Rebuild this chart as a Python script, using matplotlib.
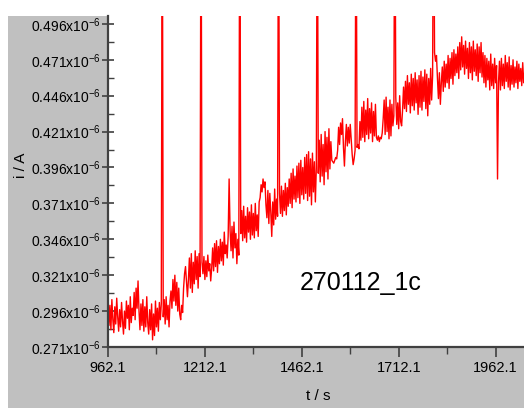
import numpy as np
import matplotlib
matplotlib.use("Agg")
import matplotlib.pyplot as plt
from matplotlib.patches import Rectangle
from matplotlib.ticker import FixedLocator

# Chronoamperometry trace: current (units of 1e-6 A) sampled every 2.5 s
t_start = 962.1
t_step = 2.5
current = [
    # 962 - 1100 s
    0.308, 0.286, 0.300, 0.283, 0.304, 0.290, 0.281, 0.299, 0.287, 0.305,
    0.292, 0.282, 0.297, 0.285, 0.302, 0.289, 0.280, 0.296, 0.284, 0.303,
    0.291, 0.300, 0.283, 0.306, 0.288, 0.298, 0.293, 0.309, 0.290, 0.312,
    0.298, 0.317, 0.296, 0.283, 0.301, 0.286, 0.304, 0.282, 0.299, 0.285,
    0.306, 0.288, 0.280, 0.297, 0.283, 0.301, 0.276, 0.294, 0.279, 0.303,
    0.285, 0.298, 0.282, 0.302, 0.290, 0.301,
    0.620,
    # 1104 - 1200 s
    0.292, 0.304, 0.287, 0.306, 0.290, 0.300, 0.285, 0.303,
    0.310, 0.298, 0.318, 0.303, 0.321, 0.300, 0.316, 0.296, 0.312, 0.294,
    0.290, 0.300, 0.295, 0.312, 0.322, 0.327, 0.316, 0.306, 0.318,
    0.333, 0.312, 0.336, 0.309, 0.330, 0.315, 0.338, 0.318, 0.334, 0.312, 0.336, 0.320,
    0.620,
    # 1204 - 1300 s
    0.330, 0.322, 0.334, 0.318, 0.331, 0.320, 0.335, 0.324, 0.329, 0.317,
    0.326, 0.340, 0.324, 0.343, 0.327, 0.345, 0.323, 0.341, 0.329, 0.346,
    0.331, 0.344, 0.328, 0.351, 0.336, 0.342, 0.333, 0.348, 0.388, 0.352,
    0.338, 0.355, 0.333, 0.358, 0.340, 0.350, 0.329, 0.346, 0.335,
    0.620,
    # 1304 - 1400 s
    0.350, 0.366, 0.345, 0.369, 0.347, 0.362, 0.344, 0.368, 0.351, 0.365,
    0.346, 0.370, 0.349, 0.364, 0.347, 0.371, 0.352, 0.363, 0.348, 0.372,
    0.375, 0.384, 0.379, 0.388, 0.382, 0.386, 0.370, 0.361, 0.380, 0.357,
    0.378, 0.365, 0.348, 0.372, 0.356, 0.381, 0.360, 0.374, 0.362,
    0.620,
    # 1404 - 1500 s
    0.378, 0.364, 0.383, 0.362, 0.380, 0.366, 0.385, 0.363, 0.382, 0.369,
    0.388, 0.371, 0.392, 0.368, 0.395, 0.374, 0.390, 0.372, 0.397, 0.375,
    0.399, 0.371, 0.401, 0.377, 0.396, 0.374, 0.403, 0.378, 0.405, 0.373,
    0.407, 0.376, 0.402, 0.370, 0.406, 0.379, 0.400, 0.372, 0.396,
    0.620,
    # 1504 - 1600 s
    0.392, 0.415, 0.386, 0.419, 0.390, 0.412, 0.384, 0.421, 0.393, 0.417,
    0.388, 0.423, 0.395, 0.414, 0.401, 0.400, 0.399, 0.401, 0.403, 0.402,
    0.408, 0.424, 0.412, 0.427, 0.419, 0.430, 0.410, 0.397, 0.414, 0.426,
    0.411, 0.424, 0.413, 0.426, 0.415, 0.405, 0.398, 0.402, 0.408,
    0.620,
    # 1604 - 1700 s
    0.410, 0.412, 0.409, 0.428, 0.415, 0.438, 0.417, 0.442, 0.414, 0.436,
    0.419, 0.444, 0.416, 0.437, 0.420, 0.441, 0.414, 0.435, 0.418, 0.440,
    0.417, 0.415, 0.418, 0.414, 0.417, 0.416, 0.420, 0.430, 0.443, 0.419,
    0.445, 0.421, 0.438, 0.416, 0.443, 0.418, 0.440, 0.425, 0.432,
    0.620,
    # 1704 - 1800 s
    0.445, 0.426, 0.441, 0.423, 0.446, 0.428, 0.425, 0.436, 0.452, 0.437,
    0.456, 0.435, 0.460, 0.440, 0.455, 0.434, 0.461, 0.439, 0.458, 0.436,
    0.462, 0.441, 0.457, 0.433, 0.460, 0.438, 0.463, 0.436, 0.459, 0.442,
    0.464, 0.437, 0.461, 0.432, 0.458, 0.440, 0.465, 0.443, 0.460,
    0.620,
    # 1804 - 1965 s
    0.476, 0.470, 0.474, 0.458, 0.444, 0.462, 0.440, 0.455, 0.466, 0.449,
    0.470, 0.452, 0.468, 0.455, 0.474, 0.451, 0.472, 0.458, 0.476, 0.454,
    0.478, 0.460, 0.475, 0.462, 0.480, 0.458, 0.483, 0.464, 0.487, 0.466,
    0.481, 0.461, 0.484, 0.465, 0.479, 0.458, 0.483, 0.462, 0.480, 0.457,
    0.484, 0.463, 0.478, 0.460, 0.482, 0.456, 0.480, 0.462, 0.483, 0.459,
    0.476, 0.455, 0.474, 0.452, 0.472, 0.457, 0.470, 0.450, 0.475, 0.453,
    0.468, 0.451, 0.472, 0.455, 0.467,
    0.388,
    # 1970 - 2037 s
    0.455, 0.470, 0.450, 0.472, 0.453, 0.468, 0.451, 0.474, 0.456, 0.469,
    0.452, 0.473, 0.450, 0.467, 0.454, 0.471, 0.452, 0.466, 0.455, 0.470,
    0.451, 0.468, 0.456, 0.465, 0.453, 0.469, 0.455, 0.462,
]
time = t_start + t_step * np.arange(len(current))

x_ticks = [962.1, 1212.1, 1462.1, 1712.1, 1962.1]
y_ticks = [0.271, 0.296, 0.321, 0.346, 0.371, 0.396, 0.421, 0.446, 0.471, 0.496]
sample_name = "270112_1c"

plt.rcParams["font.family"] = ["Liberation Sans", "DejaVu Sans"]
plt.rcParams["mathtext.fontset"] = "custom"
plt.rcParams["mathtext.rm"] = "Liberation Sans"

W, H = 524, 408
fig = plt.figure(figsize=(W / 100, H / 100), dpi=100)
fig.patch.set_facecolor("white")
fig.add_artist(Rectangle((8 / W, 0), 1 - 8 / W, (H - 16) / H,
                         transform=fig.transFigure, facecolor="#c0c0c0",
                         edgecolor="none", zorder=0))

ax = fig.add_axes([108 / W, (H - 347) / H, (W - 108) / W, (347 - 16) / H])
ax.set_facecolor("white")
ax.plot(time, current, color="#ff0000", lw=1.0)

ax.set_xlim(962.1, 2035.4)
ax.set_ylim(0.271, 0.5015)

ax.xaxis.set_major_locator(FixedLocator(x_ticks))
ax.xaxis.set_minor_locator(FixedLocator([x + 125 for x in x_ticks]))
ax.set_xticklabels([f"{x:.1f}" for x in x_ticks])
ax.yaxis.set_major_locator(FixedLocator(y_ticks))
ax.yaxis.set_minor_locator(FixedLocator([y + 0.0125 for y in y_ticks]))
ax.set_yticklabels([f"{y:.3f}x10$^{{\\mathregular{{-6}}}}$" for y in y_ticks])

for side in ("top", "right"):
    ax.spines[side].set_visible(False)
for side in ("left", "bottom"):
    ax.spines[side].set_color("#404040")
    ax.spines[side].set_linewidth(1.6)

ax.tick_params(axis="x", which="major", direction="out", length=7, width=1.2,
               color="#404040", labelsize=10.5, pad=3)
ax.tick_params(axis="x", which="minor", direction="out", length=5, width=1.0,
               color="#404040")
ax.tick_params(axis="y", which="major", direction="inout", length=8, width=1.2,
               color="#404040", labelsize=10, pad=1)
ax.tick_params(axis="y", which="minor", direction="in", length=4, width=1.0,
               color="#404040")

fig.text(21 / W, 1 - 165 / H, "i / A", rotation=90, ha="center", va="center",
         fontsize=11)
fig.text(318 / W, 1 - 396 / H, "t / s", ha="center", va="center", fontsize=11)

fig.text(300 / W, 1 - 290 / H, sample_name, ha="left", va="baseline",
         fontsize=18, color="black")

fig.savefig("out.png", dpi=100, facecolor=fig.get_facecolor())
